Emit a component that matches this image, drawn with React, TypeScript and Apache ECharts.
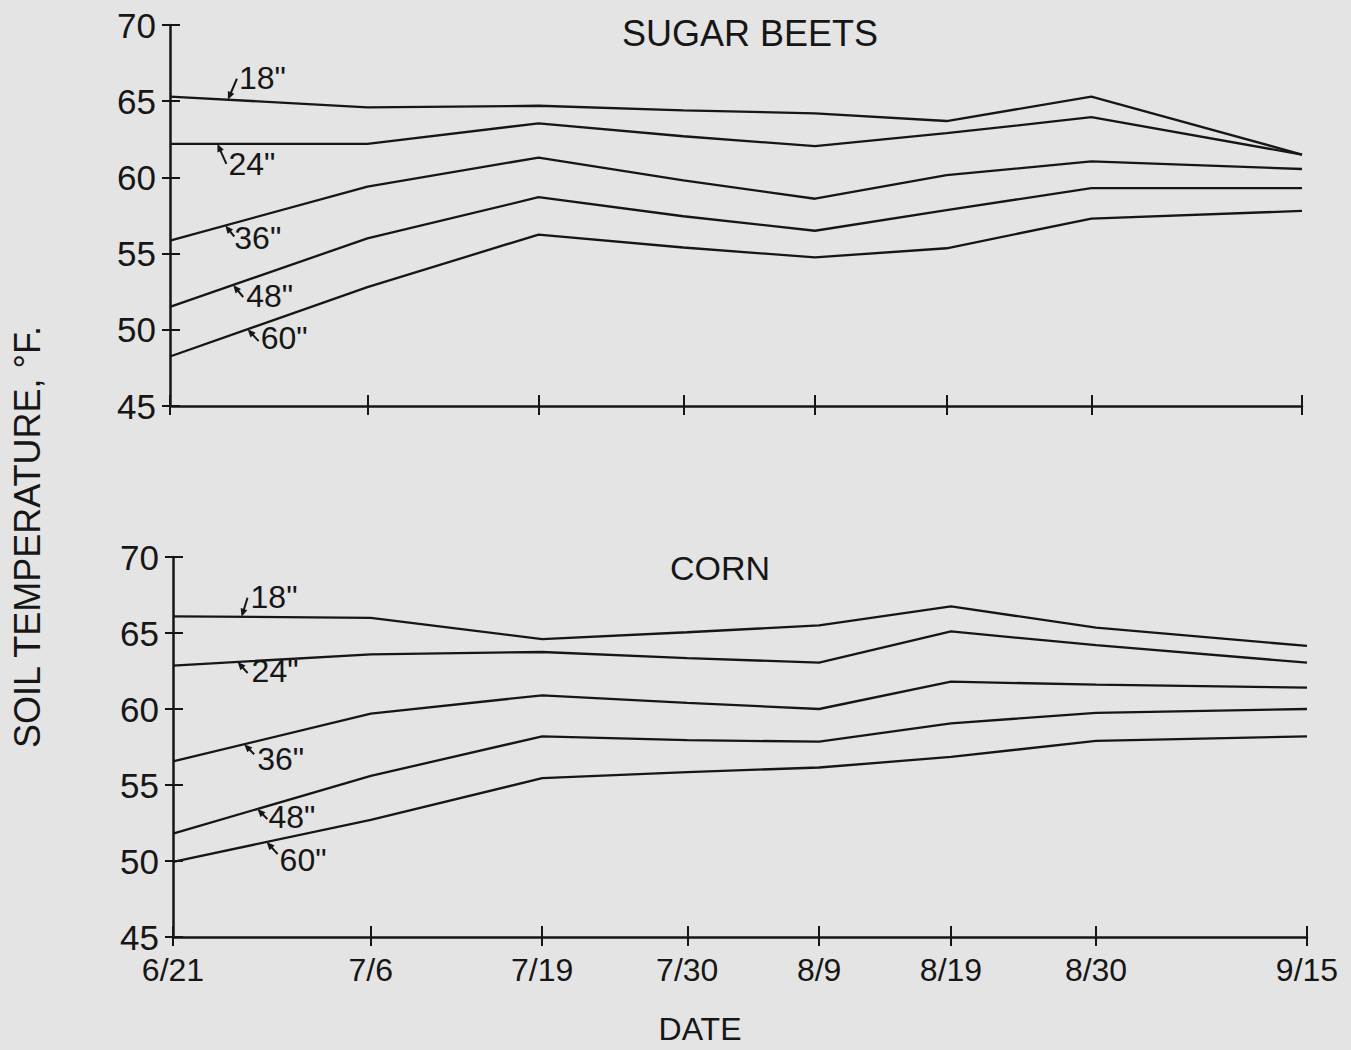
import React, { useEffect, useRef } from "react";
import * as echarts from "echarts";

// ---- data ----
const dateLabels = ["6/21", "7/6", "7/19", "7/30", "8/9", "8/19", "8/30", "9/15"];
const dayOffsets = [0, 15, 28, 39, 49, 59, 70, 86]; // days after 6/21
const depthLabels = ['18"', '24"', '36"', '48"', '60"'];

const beets18 = [65.3, 64.6, 64.7, 64.4, 64.2, 63.7, 65.3, 61.5];
const beets24 = [62.2, 62.2, 63.55, 62.7, 62.05, 62.9, 63.95, 61.5];
const beets36 = [55.85, 59.4, 61.3, 59.8, 58.6, 60.15, 61.05, 60.55];
const beets48 = [51.5, 56.0, 58.7, 57.45, 56.5, 57.85, 59.3, 59.3];
const beets60 = [48.25, 52.8, 56.25, 55.4, 54.75, 55.35, 57.3, 57.8];

const corn18 = [66.1, 66.0, 64.6, 65.05, 65.5, 66.75, 65.35, 64.15];
const corn24 = [62.85, 63.6, 63.75, 63.35, 63.05, 65.1, 64.2, 63.05];
const corn36 = [56.55, 59.7, 60.9, 60.4, 60.0, 61.8, 61.6, 61.4];
const corn48 = [51.8, 55.6, 58.2, 57.95, 57.85, 59.05, 59.75, 60.0];
const corn60 = [49.95, 52.7, 55.45, 55.85, 56.15, 56.85, 57.9, 58.2];

const yTicks = { min: 45, max: 70, interval: 5 };

// ---- annotation placement (style) ----
// tipDay: where the arrow touches the line; tail/text: pixel offsets from the tip
const beetNotes = [
  { tipDay: 4.4, tail: [9, -21], text: [11, -22] },
  { tipDay: 3.6, tail: [9, 20], text: [11, 20] },
  { tipDay: 4.2, tail: [9, 11], text: [9, 13] },
  { tipDay: 4.8, tail: [10, 12], text: [13, 11] },
  { tipDay: 5.9, tail: [11, 12], text: [13, 9] },
];
const cornNotes = [
  { tipDay: 5.2, tail: [6, -19], text: [9, -20] },
  { tipDay: 4.9, tail: [10, 11], text: [14, 9] },
  { tipDay: 5.4, tail: [10, 10], text: [13, 15] },
  { tipDay: 6.4, tail: [10, 10], text: [11, 8] },
  { tipDay: 7.1, tail: [11, 12], text: [13, 18] },
];

const INK = "#161616";
const BG = "#e4e4e4";
const FONT = "Liberation Sans";

function interp(vals: number[], d: number) {
  for (let i = 0; i < dayOffsets.length - 1; i++) {
    const a = dayOffsets[i], b = dayOffsets[i + 1];
    if (d >= a && d <= b) return vals[i] + ((vals[i + 1] - vals[i]) * (d - a)) / (b - a);
  }
  return vals[vals.length - 1];
}

export default function App() {
  const ref = useRef<HTMLDivElement>(null);

  useEffect(() => {
    if (!ref.current) return;
    const chart = echarts.init(ref.current, null, { renderer: "svg" });

    const beets = [beets18, beets24, beets36, beets48, beets60];
    const corn = [corn18, corn24, corn36, corn48, corn60];

    const xBase = (grid: number, labels: boolean) => ({
      gridIndex: grid,
      type: "value",
      min: 0,
      max: 86,
      position: "bottom",
      splitLine: { show: false },
      axisLine: { show: true, onZero: false, lineStyle: { color: INK, width: 2.5 } },
      axisTick: {
        show: true,
        customValues: dayOffsets,
        length: 9,
        lineStyle: { color: INK, width: 2 },
      },
      axisLabel: labels
        ? {
            show: true,
            customValues: dayOffsets,
            formatter: (v: number) => {
              const i = dayOffsets.indexOf(Math.round(v));
              return i >= 0 ? dateLabels[i] : "";
            },
            fontFamily: FONT,
            fontSize: 32,
            color: INK,
            margin: 17,
          }
        : { show: false },
    });
    const xInside = (grid: number) => ({
      gridIndex: grid,
      type: "value",
      min: 0,
      max: 86,
      position: "bottom",
      splitLine: { show: false },
      axisLine: { show: false, onZero: false },
      axisTick: {
        show: true,
        inside: true,
        customValues: dayOffsets,
        length: 11,
        lineStyle: { color: INK, width: 2 },
      },
      axisLabel: { show: false },
    });
    const yBase = (grid: number) => ({
      gridIndex: grid,
      type: "value",
      ...yTicks,
      position: "left",
      splitLine: { show: false },
      axisLine: { show: true, onZero: false, lineStyle: { color: INK, width: 2.5 } },
      axisTick: { show: true, length: 8, lineStyle: { color: INK, width: 2 } },
      axisLabel: { show: true, fontFamily: FONT, fontSize: 35, color: INK, margin: 14 },
    });
    const yInside = (grid: number) => ({
      gridIndex: grid,
      type: "value",
      ...yTicks,
      position: "left",
      splitLine: { show: false },
      axisLine: { show: false, onZero: false },
      axisTick: { show: true, inside: true, length: 10, lineStyle: { color: INK, width: 2 } },
      axisLabel: { show: false },
    });

    const series: any[] = [];
    beets.forEach((vals, i) =>
      series.push({
        name: "Sugar beets " + depthLabels[i],
        type: "line",
        xAxisIndex: 0,
        yAxisIndex: 0,
        data: dayOffsets.map((d, j) => [d, vals[j]]),
        symbol: "none",
        silent: true,
        lineStyle: { color: INK, width: 2.3 },
      })
    );
    corn.forEach((vals, i) =>
      series.push({
        name: "Corn " + depthLabels[i],
        type: "line",
        xAxisIndex: 2,
        yAxisIndex: 2,
        data: dayOffsets.map((d, j) => [d, vals[j]]),
        symbol: "none",
        silent: true,
        lineStyle: { color: INK, width: 2.3 },
      })
    );

    chart.setOption({
      animation: false,
      backgroundColor: BG,
      title: [
        {
          text: "SUGAR BEETS",
          left: 745,
          top: 10,
          textAlign: "center",
          textStyle: { fontFamily: FONT, fontSize: 36, fontWeight: "normal", color: INK },
        },
        {
          text: "CORN",
          left: 715,
          top: 546,
          textAlign: "center",
          textStyle: { fontFamily: FONT, fontSize: 34, fontWeight: "normal", color: INK },
        },
      ],
      grid: [
        { left: 170, top: 25, width: 1132, height: 381 },
        { left: 173, top: 557, width: 1134, height: 380 },
      ],
      xAxis: [xBase(0, false), xInside(0), xBase(1, true), xInside(1)],
      yAxis: [yBase(0), yInside(0), yBase(1), yInside(1)],
      series,
    });

    // annotations anchored to the data lines
    const graphics: any[] = [];
    const addNotes = (sets: number[][], notes: any[], seriesStart: number) => {
      notes.forEach((n, i) => {
        const v = interp(sets[i], n.tipDay);
        const tip = chart.convertToPixel({ seriesIndex: seriesStart + i }, [n.tipDay, v]) as number[];
        const tail = [tip[0] + n.tail[0], tip[1] + n.tail[1]];
        const dx = tip[0] - tail[0], dy = tip[1] - tail[1];
        const len = Math.sqrt(dx * dx + dy * dy) || 1;
        const ux = dx / len, uy = dy / len;
        const L = 8, W = 3.5;
        const bx = tip[0] - ux * L, by = tip[1] - uy * L;
        graphics.push({
          type: "line",
          silent: true,
          shape: { x1: tail[0], y1: tail[1], x2: bx + ux * 2, y2: by + uy * 2 },
          style: { stroke: INK, lineWidth: 2 },
        });
        graphics.push({
          type: "polygon",
          silent: true,
          shape: {
            points: [
              [tip[0], tip[1]],
              [bx - uy * W, by + ux * W],
              [bx + uy * W, by - ux * W],
            ],
          },
          style: { fill: INK },
        });
        graphics.push({
          type: "text",
          silent: true,
          x: tip[0] + n.text[0],
          y: tip[1] + n.text[1],
          style: {
            text: depthLabels[i],
            fontFamily: FONT,
            fontSize: 32,
            fill: INK,
            align: "left",
            verticalAlign: "middle",
            textAlign: "left",
            textVerticalAlign: "middle",
          },
        });
      });
    };
    addNotes(beets, beetNotes, 0);
    addNotes(corn, cornNotes, 5);

    graphics.push({
      type: "text",
      silent: true,
      x: 27,
      y: 537,
      rotation: Math.PI / 2,
      style: {
        text: "SOIL TEMPERATURE, °F.",
        fontFamily: FONT,
        fontSize: 36,
        fill: INK,
        align: "center",
        verticalAlign: "middle",
        textAlign: "center",
        textVerticalAlign: "middle",
      },
    });
    graphics.push({
      type: "text",
      silent: true,
      x: 700,
      y: 1029,
      style: {
        text: "DATE",
        fontFamily: FONT,
        fontSize: 32,
        fill: INK,
        align: "center",
        verticalAlign: "middle",
        textAlign: "center",
        textVerticalAlign: "middle",
      },
    });

    chart.setOption({ graphic: graphics });

    return () => chart.dispose();
  }, []);

  return (
    <div
      ref={ref}
      style={{ position: "absolute", left: 0, top: 0, width: 1351, height: 1050, background: BG }}
    />
  );
}
